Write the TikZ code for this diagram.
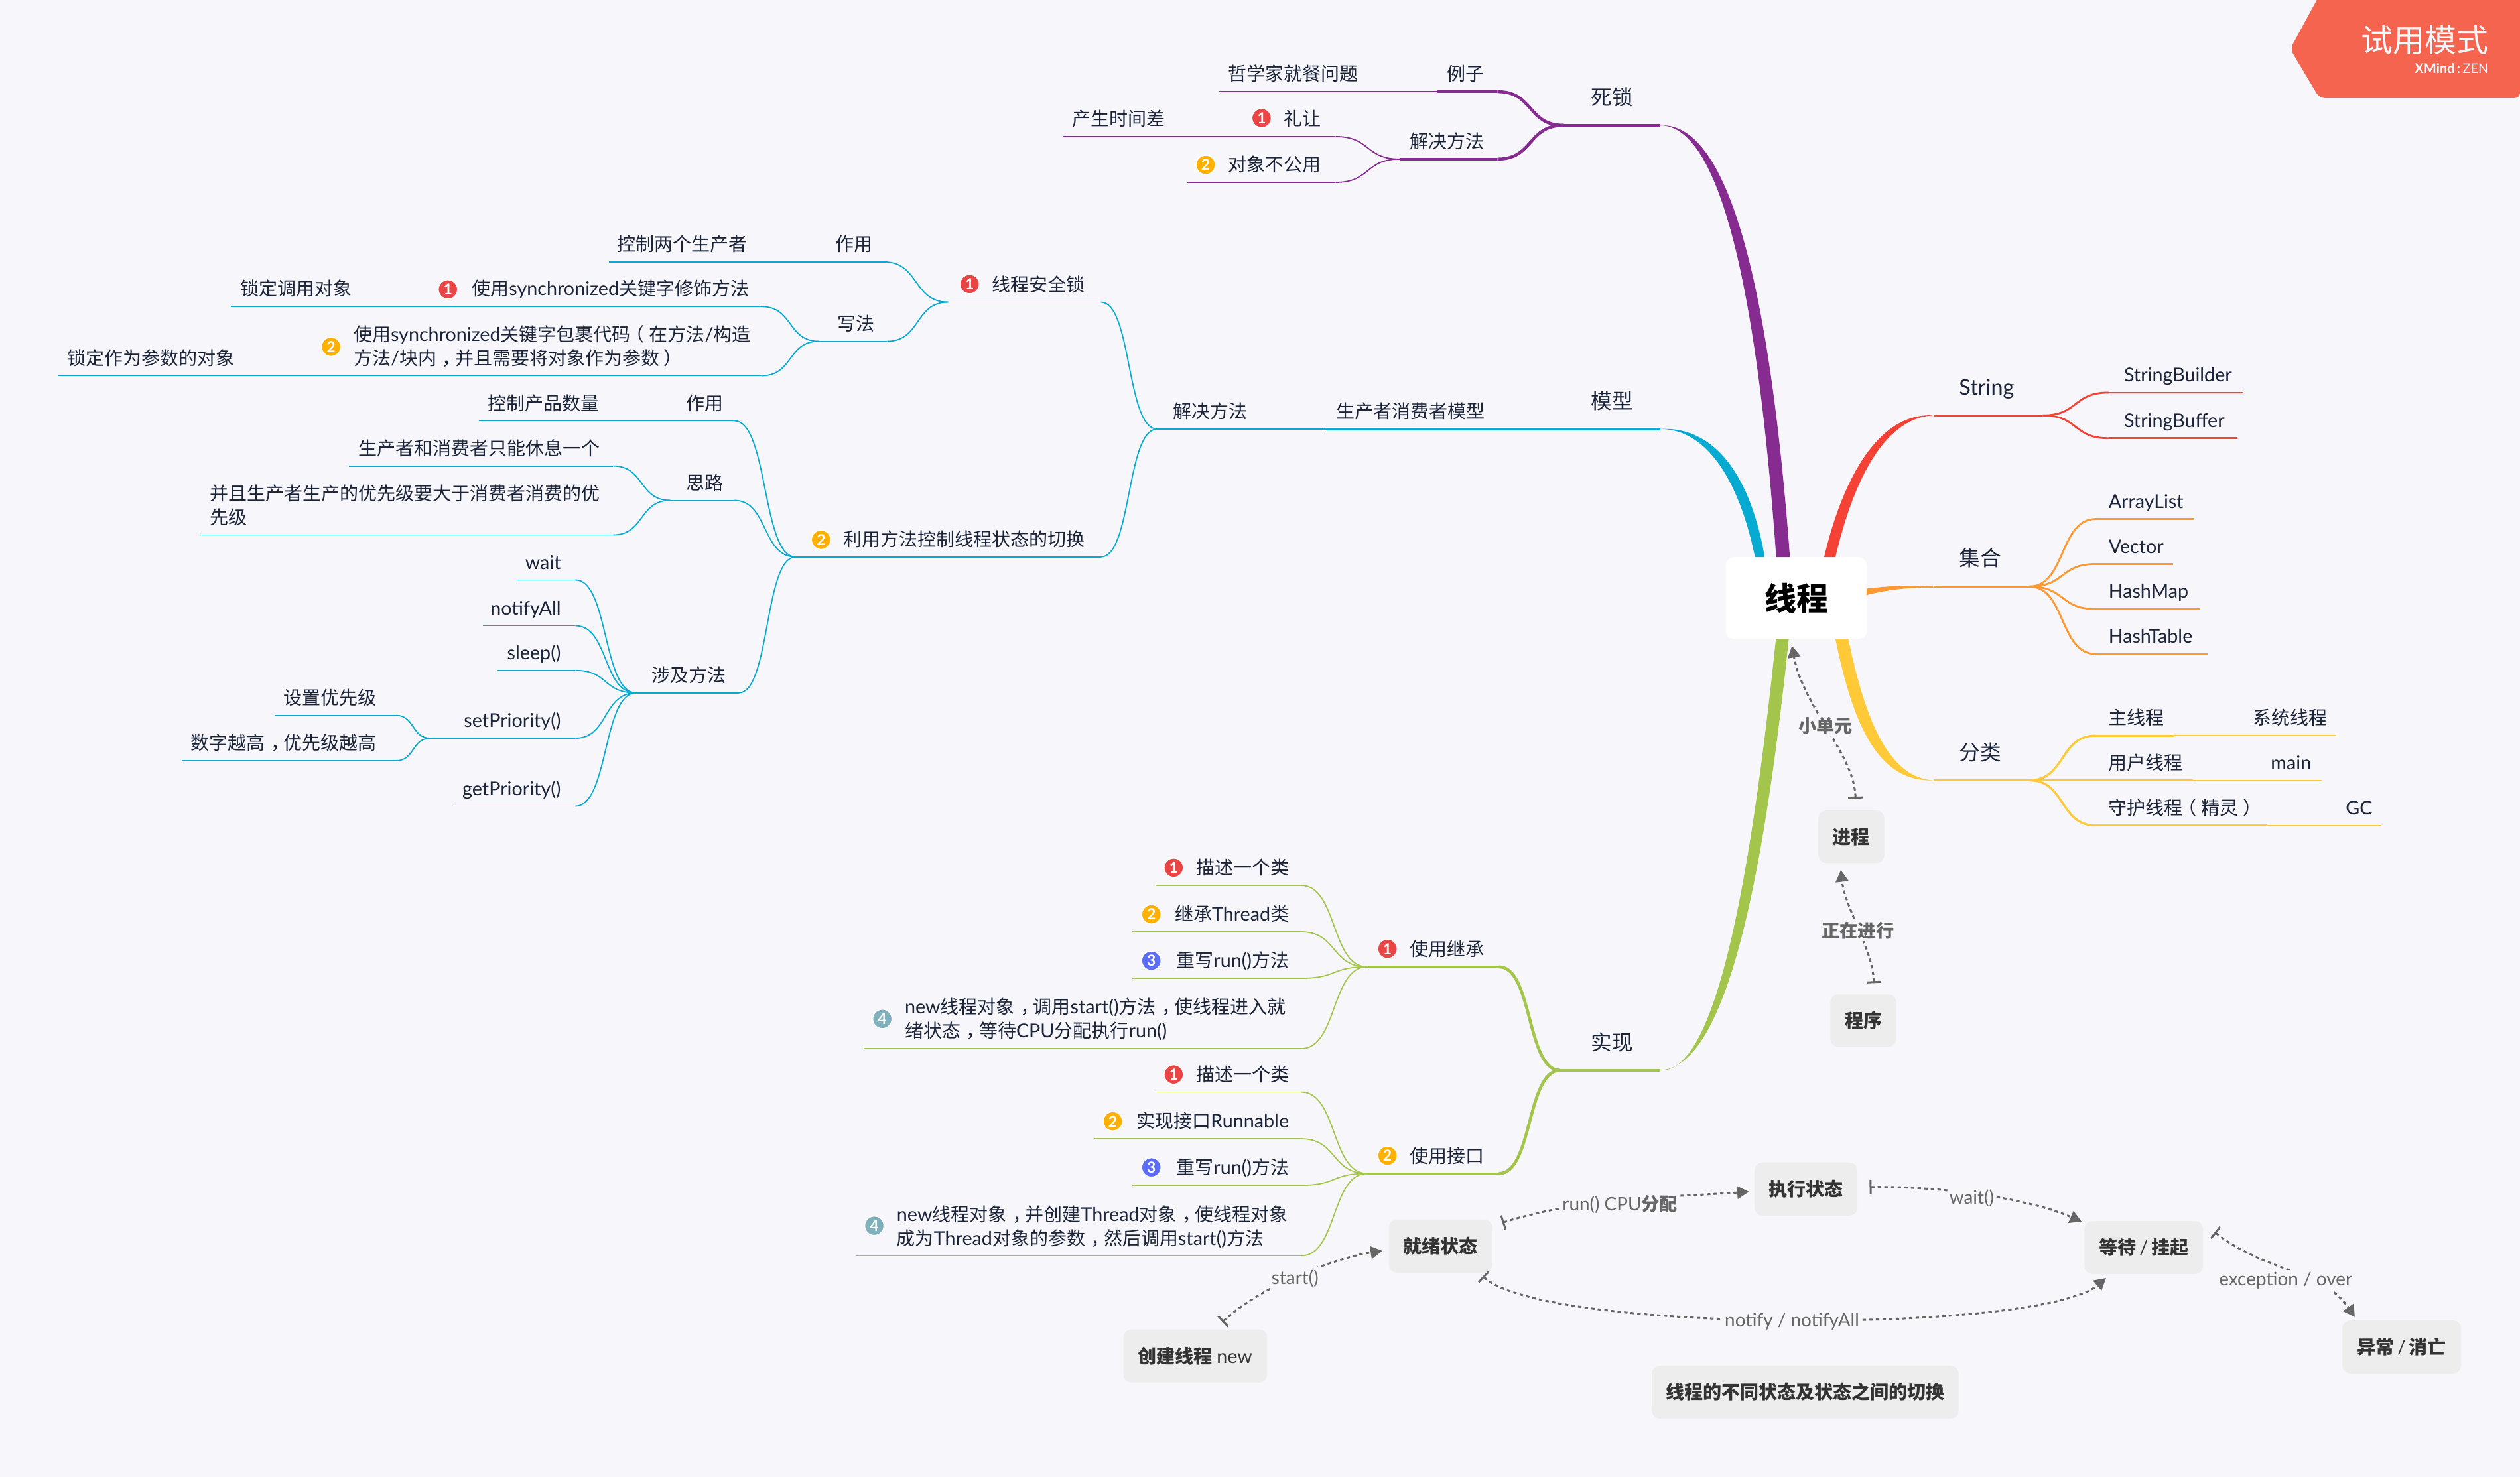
\documentclass[tikz,border=0pt]{standalone}
\usepackage{fontspec}
\usetikzlibrary{arrows.meta,calc}
\setmainfont{Lato}
\newfontfamily\cjk{Noto Sans CJK SC}
\newfontfamily\latfont[Scale=1.025]{Lato}
\newcommand\La[1]{{\latfont #1}}
\newcommand\zcm{\kern.32em ，\kern-.32em\relax}
\newcommand\zlp{\kern-.25em （\kern.25em\relax}
\newcommand\zrp{\kern.25em ）\kern-.25em\relax}
\definecolor{bgc}{HTML}{F7F7FB}
\definecolor{pur}{HTML}{862B90}
\definecolor{cya}{HTML}{07ABD1}
\definecolor{redc}{HTML}{F44336}
\definecolor{org}{HTML}{FD9930}
\definecolor{yel}{HTML}{FFC938}
\definecolor{grn}{HTML}{A3C54B}
\definecolor{ink}{HTML}{1B2438}
\definecolor{boxc}{HTML}{EDEDED}
\definecolor{boxt}{HTML}{333333}
\definecolor{lnk}{HTML}{666666}
\definecolor{badge}{HTML}{F4644F}
\definecolor{mone}{HTML}{E94545}
\definecolor{mtwo}{HTML}{FFB000}
\definecolor{mthree}{HTML}{5B6CF5}
\definecolor{mfour}{HTML}{7FB0BC}
\tikzset{
 topic/.style={anchor=south west,inner ysep=0pt,outer sep=0pt,text depth=4.1pt,
   font=\cjk\fontsize{7}{9}\selectfont},
 lvone/.style={text depth=7.6pt,font=\cjk\fontsize{7.9}{10}\selectfont},
 pa/.style={color=pur,line width=.9pt},pb/.style={color=pur,line width=.45pt},
 pc/.style={color=pur,line width=1.15pt},
 ca/.style={color=cya,line width=.9pt},cb/.style={color=cya,line width=.45pt},
 ra/.style={color=redc,line width=.7pt},
 oa/.style={color=org,line width=.7pt},
 ya/.style={color=yel,line width=.8pt},yb/.style={color=yel,line width=.4pt},
 ga/.style={color=grn,line width=.9pt},gb/.style={color=grn,line width=.45pt},
 gc/.style={color=grn,line width=1.15pt},
 mk/.style={circle,draw=white,line width=.3pt,inner sep=0pt,minimum size=7.2pt,text=white,
   font=\latfont\bfseries\fontsize{5.6}{5.6}\selectfont},
 bx/.style={fill=boxc,rounded corners=3pt,inner sep=0pt,outer sep=0pt,text=boxt,
   font=\cjk\bfseries\fontsize{7}{9}\selectfont},
 dlink/.style={color=lnk,line width=.75pt,dash pattern=on 1.3pt off 1.2pt,
   {Bar[width=5.5pt,length=.7pt]}-{Triangle[length=4.4pt,width=4.8pt]}},
 lab/.style={fill=bgc,text=lnk,inner sep=.8pt,font=\cjk\bfseries\fontsize{6.8}{8}\selectfont},
 labl/.style={fill=bgc,text=lnk,inner sep=.8pt,font=\latfont\fontsize{6.8}{8}\selectfont},
}
\newcommand\tpL[7]{%
 \pgfmathsetlengthmacro\tw{(#3-#2-2*#5)*0.6057}\pgfmathsetlengthmacro\px{#5*0.6057}%
 \node[topic,#6,text=ink,inner xsep=\px] (#1) at (#2,#4) {\makebox[\tw][r]{#7}};
 \draw[#6] (#1.south west)--(#1.south east);}
\newcommand\tpR[7]{%
 \pgfmathsetlengthmacro\tw{(#3-#2-2*#5)*0.6057}\pgfmathsetlengthmacro\px{#5*0.6057}%
 \node[topic,#6,text=ink,inner xsep=\px] (#1) at (#2,#4) {\makebox[\tw][l]{#7}};
 \draw[#6] (#1.south west)--(#1.south east);}
\newcommand\ml[2]{\parbox[b]{\dimexpr0.6057pt*#1\relax}{\baselineskip=9pt\raggedright #2}}
\newcommand\cc[3]{\draw[#3] let \p1=(#1.south east),\p2=(#2.south west),\n1={0.55*(\x2-\x1)} in
  (\p1) .. controls (\x1+\n1,\y1) and (\x2-\n1,\y2) .. (\p2);}
\newcommand\cs[3]{\draw[#3] (#1.south east) -- (#2.south west);}
\newcommand\bxn[6]{%
 \pgfmathsetlengthmacro\bw{(#3-#2)*0.6057}\pgfmathsetlengthmacro\bh{(#5-#4)*0.6057}%
 \node[bx,minimum width=\bw,minimum height=\bh] (#1) at ({(#2+#3)/2},{(#4+#5)/2}) {#6};}
\begin{document}
\begin{tikzpicture}[x=0.6057pt,y=-0.6057pt]
\fill[bgc] (0,0) rectangle (1568,919.17);
\useasboundingbox (0,0) rectangle (1568,919.17);

% ---- badge
\fill[badge,rounded corners=2pt] (1443.2,-3) -- (1425,30.5) -- (1443.2,61) -- (1568,61) -- (1568,-3) -- cycle;
\node[anchor=east,inner sep=0pt,text=bgc,font=\cjk\fontsize{12}{12}\selectfont] (trial) at (1548.7,25) {试用模式};
\node[anchor=east,inner sep=0pt,text=bgc,font=\latfont\fontsize{4.9}{5}\selectfont] (xmind) at (1548.7,42.6) {{\bfseries XMind}\,{\bfseries:}\,ZEN};

% ---- centre
\node[fill=white,rounded corners=3pt,inner sep=0pt,outer sep=0pt,minimum width=53pt,minimum height=30.8pt,
  text=black,font=\cjk\bfseries\fontsize{12}{14}\selectfont] (ct) at (1117.7,372.2) {线程};

% ---- purple
\tpR{sisuo}{973}{1033}{78}{17}{pa,lvone}{死锁}
\tpL{jjff}{871}{931.7}{99}{8}{pa}{解决方法}
\tpL{lizi}{894}{931.7}{57}{8}{pa}{例子}
\tpL{zhexue}{758.6}{853}{57}{8}{pb}{哲学家就餐问题}
\tpL{lirang}{770}{831}{85}{9}{pb}{礼让}
\tpL{shijian}{661}{733}{85}{8}{pb}{产生时间差}
\tpL{duixiang}{739}{831}{113.5}{9}{pb}{对象不公用}
\node[mk,fill=mone] (mka) at (785,73.5) {1};
\node[mk,fill=mtwo] (mkb) at (750.2,102.6) {2};
\cc{lizi}{sisuo}{pc}\cc{jjff}{sisuo}{pc}
\cs{zhexue}{lizi}{pb}\cc{lirang}{jjff}{pb}\cc{duixiang}{jjff}{pb}\cs{shijian}{lirang}{pb}
\fill[pur] ([shift={(-12.5,0)}]ct.north) .. controls (1094,190) and (1072,78) .. (sisuo.south east)
  .. controls (1078,76) and (1102,190) .. ([shift={(-4,0)}]ct.north) -- cycle;

% ---- cyan
\tpR{moxing}{973}{1033}{267}{17}{ca,lvone}{模型}
\tpL{shengchan}{825}{932}{267}{8}{ca}{生产者消费者模型}
\tpL{jjfb}{720}{784}{267}{8}{cb}{解决方法}
\tpL{aqs}{590}{685}{188}{10}{cb}{线程安全锁}
\tpL{qiehuan}{495}{685}{346.6}{10}{cb}{利用方法控制线程状态的切换}
\node[mk,fill=mone] (mkc) at (603.3,176.8) {1};
\node[mk,fill=mtwo] (mkd) at (510.9,335.9) {2};
\cs{shengchan}{moxing}{ca}\cs{jjfb}{shengchan}{cb}
\cc{aqs}{jjfb}{cb}\cc{qiehuan}{jjfb}{cb}
\tpL{zya}{514}{550}{163}{7}{cb}{作用}
\tpL{ksl}{379}{473}{163}{8}{cb}{控制两个生产者}
\tpL{xiefa}{509.5}{552}{212.4}{8}{cb}{写法}
\tpL{syncm}{227}{474}{190.8}{8}{cb}{使用\La{synchronized}关键字修饰方法}
\tpL{sdy}{143.6}{227}{190.8}{8}{cb}{锁定调用对象}
\tpL{syncb}{154}{474}{233.8}{8}{cb}{\ml{246}{使用\La{synchronized}关键字包裹代码\zlp 在方法\La{/}构造\\方法\La{/}块内\zcm 并且需要将对象作为参数\zrp}}
\tpL{scs}{36.5}{154}{233.8}{8}{cb}{锁定作为参数的对象}
\node[mk,fill=mone] (mke) at (278.7,180.1) {1};
\node[mk,fill=mtwo] (mkf) at (206,215.8) {2};
\cc{zya}{aqs}{cb}\cc{xiefa}{aqs}{cb}\cs{ksl}{zya}{cb}
\cc{syncm}{xiefa}{cb}\cc{syncb}{xiefa}{cb}\cs{sdy}{syncm}{cb}\cs{scs}{syncb}{cb}
\tpL{zyb}{422}{457}{261.9}{7}{cb}{作用}
\tpL{kcp}{298}{381}{261.9}{8}{cb}{控制产品数量}
\tpL{silu}{417}{457}{311.4}{7}{cb}{思路}
\tpL{xiuxi}{217}{381.5}{290}{8}{cb}{生产者和消费者只能休息一个}
\tpL{bingqie}{124.6}{381.5}{332.9}{8}{cb}{\ml{243}{并且生产者生产的优先级要大于消费者消费的优\\先级}}
\tpL{sheji}{395.7}{459.7}{431.2}{8}{cb}{涉及方法}
\tpL{waitn}{321}{358}{360.9}{9}{cb}{\La{wait}}
\tpL{notif}{300.5}{358}{389.4}{9}{cb}{\La{notifyAll}}
\tpL{sleepn}{309}{358}{417.2}{9}{cb}{\La{sleep()}}
\tpL{setp}{267.8}{358}{459.4}{9}{cb}{\La{setPriority()}}
\tpL{getp}{282.4}{358}{501.7}{9}{cb}{\La{getPriority()}}
\tpL{szyx}{171}{246.4}{445.2}{12}{cb}{设置优先级}
\tpL{szgy}{113}{246.4}{473.4}{12}{cb}{数字越高\zcm 优先级越高}
\cc{zyb}{qiehuan}{cb}\cc{silu}{qiehuan}{cb}\cc{sheji}{qiehuan}{cb}\cs{kcp}{zyb}{cb}
\cc{xiuxi}{silu}{cb}\cc{bingqie}{silu}{cb}
\cc{waitn}{sheji}{cb}\cc{notif}{sheji}{cb}\cc{sleepn}{sheji}{cb}\cc{setp}{sheji}{cb}\cc{getp}{sheji}{cb}
\cc{szyx}{setp}{cb}\cc{szgy}{setp}{cb}
\fill[cya] ([shift={(-25.7,0)}]ct.north) .. controls (1083,303) and (1064,267) .. (moxing.south east)
  .. controls (1069,265) and (1090,300) .. ([shift={(-19.7,0)}]ct.north) -- cycle;

% ---- red
\tpR{stri}{1203}{1271}{258.5}{16}{ra,lvone}{\La{String}}
\tpR{sbd}{1312}{1396}{244.3}{9.6}{ra}{\La{StringBuilder}}
\tpR{sbf}{1312}{1392}{272.7}{9.6}{ra}{\La{StringBuffer}}
\cc{stri}{sbd}{ra}\cc{stri}{sbf}{ra}
\fill[redc] ([shift={(17.3,0)}]ct.north) .. controls (1146,300) and (1168,256.5) .. (stri.south west)
  .. controls (1172,260) and (1153,300) .. ([shift={(24.3,0)}]ct.north) -- cycle;

% ---- orange
\tpR{jihe}{1203}{1262.6}{365}{16}{oa,lvone}{集合}
\tpR{alist}{1304}{1365.5}{323}{8}{oa}{\La{ArrayList}}
\tpR{vect}{1304}{1352}{351}{8}{oa}{\La{Vector}}
\tpR{hmap}{1304}{1368.6}{379}{8}{oa}{\La{HashMap}}
\tpR{htab}{1304}{1373.6}{407}{8}{oa}{\La{HashTable}}
\cc{jihe}{alist}{oa}\cc{jihe}{vect}{oa}\cc{jihe}{hmap}{oa}\cc{jihe}{htab}{oa}
\fill[org] ([shift={(0,-5.9)}]ct.east) .. controls (1176,364.5) and (1190,364) .. (jihe.south west)
  -- ([shift={(0,.6)}]jihe.south west) .. controls (1190,365.5) and (1176,366.5) .. ([shift={(0,-1.9)}]ct.east) -- cycle;

% ---- yellow
\tpR{fenl}{1203}{1262.6}{485.6}{16}{ya,lvone}{分类}
\tpR{zxc}{1304}{1352.6}{457.8}{8}{ya}{主线程}
\tpR{xtxc}{1394}{1453.8}{457.8}{8}{yb}{系统线程}
\tpR{yhxc}{1304}{1364.5}{485.6}{8}{ya}{用户线程}
\tpR{mainn}{1405}{1444.6}{485.6}{8}{yb}{\La{main}}
\tpR{shxc}{1304}{1410.7}{513.7}{8}{ya}{守护线程\zlp 精灵\zrp}
\tpR{gcn}{1451.6}{1481.7}{513.7}{8}{yb}{\La{GC}}
\cc{fenl}{zxc}{ya}\cs{fenl}{yhxc}{ya}\cc{fenl}{shxc}{ya}
\cs{zxc}{xtxc}{yb}\cs{yhxc}{mainn}{yb}\cs{shxc}{gcn}{yb}
\fill[yel] ([shift={(24.3,0)}]ct.south) .. controls (1152,445) and (1166,487) .. (fenl.south west)
  .. controls (1174,484) and (1160,445) .. ([shift={(32.3,0)}]ct.south) -- cycle;

% ---- green
\tpR{shix}{970.7}{1033}{666.1}{19.3}{ga,lvone}{实现}
\tpL{jicheng}{850.7}{932.7}{601.7}{9}{ga}{使用继承}
\tpL{jiekou}{850.7}{932.7}{730.3}{9}{ga}{使用接口}
\node[mk,fill=mone] (mkg) at (863.3,590.5) {1};
\node[mk,fill=mtwo] (mkh) at (863.3,719.2) {2};
\cc{jicheng}{shix}{gc}\cc{jiekou}{shix}{gc}
\tpL{gla}{719}{809.6}{551}{7.6}{gb}{描述一个类}
\tpL{glb}{704.7}{809.6}{579.9}{7.6}{gb}{继承\La{Thread}类}
\tpL{glc}{704.7}{809.6}{608.8}{7.6}{gb}{重写\La{run()}方法}
\tpL{gld}{537.4}{809.6}{652.6}{7.6}{gb}{\ml{239}{\La{new}线程对象\zcm 调用\La{start()}方法\zcm 使线程进入就\\绪状态\zcm 等待\La{CPU}分配执行\La{run()}}}
\node[mk,fill=mone] (mki) at (730.3,540) {1};
\node[mk,fill=mtwo] (mkj) at (716.4,569) {2};
\node[mk,fill=mthree] (mkk) at (716.4,597.9) {3};
\node[mk,fill=mfour] (mkl) at (549,634.1) {4};
\cc{gla}{jicheng}{gb}\cc{glb}{jicheng}{gb}\cc{glc}{jicheng}{gb}\cc{gld}{jicheng}{gb}
\tpL{gma}{719}{809.6}{679.6}{7.6}{gb}{描述一个类}
\tpL{gmb}{681}{809.6}{708.7}{7.6}{gb}{实现接口\La{Runnable}}
\tpL{gmc}{704.7}{809.6}{737.6}{7.6}{gb}{重写\La{run()}方法}
\tpL{gmd}{532.3}{809.6}{781.5}{7.6}{gb}{\ml{244}{\La{new}线程对象\zcm 并创建\La{Thread}对象\zcm 使线程对象\\成为\La{Thread}对象的参数\zcm 然后调用\La{start()}方法}}
\node[mk,fill=mone] (mkm) at (730.3,668.7) {1};
\node[mk,fill=mtwo] (mkn) at (692.4,697.8) {2};
\node[mk,fill=mthree] (mko) at (716.4,726.5) {3};
\node[mk,fill=mfour] (mkp) at (544,762.8) {4};
\cc{gma}{jiekou}{gb}\cc{gmb}{jiekou}{gb}\cc{gmc}{jiekou}{gb}\cc{gmd}{jiekou}{gb}
\fill[grn] ([shift={(-12.7,0)}]ct.south) .. controls (1088,560) and (1066,668) .. (shix.south east)
  .. controls (1072,664) and (1096,560) .. ([shift={(-4.7,0)}]ct.south) -- cycle;

% ---- floating boxes
\bxn{jincheng}{1131.4}{1172.4}{504.4}{537.1}{进程}
\bxn{chengxu}{1138.9}{1179.9}{618.8}{651.5}{程序}
\bxn{chuangjian}{699}{788.4}{827.4}{860.4}{创建线程 {\latfont\mdseries new}}
\bxn{jiuxu}{864.2}{928.6}{759}{792}{就绪状态}
\bxn{zhixing}{1091.7}{1155.7}{723.4}{756.5}{执行状态}
\bxn{dengdai}{1297}{1370.8}{759.9}{792.8}{等待{\latfont\mdseries\,/\,}挂起}
\bxn{yichang}{1457.5}{1531.3}{821.8}{854.7}{异常{\latfont\mdseries\,/\,}消亡}
\bxn{biaoti}{1027.8}{1218.7}{849.9}{882.8}{线程的不同状态及状态之间的切换}

% ---- dashed relations
\draw[dlink] ([shift={(2.6,-7.5)}]jincheng.north) .. controls (1154,470) and (1122,440) .. ([shift={(-2.7,4.3)}]ct.south);
\node[lab] (lxdy) at (1136,451.7) {小单元};
\draw[dlink] ([shift={(6.6,-7)}]chengxu.north) .. controls (1165,590) and (1148,565) .. ([shift={(-6.5,4.4)}]jincheng.south);
\node[lab] (lzzjx) at (1156,579) {正在进行};
\draw[dlink] ([shift={(16.9,-4.7)}]chuangjian.north) .. controls (785,800) and (830,783) .. ([shift={(-4.1,2.9)}]jiuxu.west);
\node[labl] (lstart) at (805.8,795.5) {start()};
\draw[dlink] ([shift={(6.2,1.9)}]jiuxu.north east) .. controls (985,745) and (1040,745) .. ([shift={(-3.5,1.7)}]zhixing.west);
\node[labl] (lrun) at (1008,749.4) {run() CPU{\cjk\bfseries 分配}};
\draw[dlink] ([shift={(7.6,-1.2)}]zhixing.east) .. controls (1205,738) and (1260,745) .. ([shift={(-1.8,.3)}]dengdai.north west);
\node[labl] (lwait) at (1226.8,745.5) {wait()};
\draw[dlink] ([shift={(-5.9,2.2)}]jiuxu.south east) .. controls (960,830) and (1270,830) .. ([shift={(13.4,2.5)}]dengdai.south west);
\node[labl] (lnotify) at (1115,822.4) {notify / notifyAll};
\draw[dlink] ([shift={(7.2,6.9)}]dengdai.north east) .. controls (1410,792) and (1445,790) .. ([shift={(7.7,-2.2)}]yichang.north west);
\node[labl] (lexc) at (1422.2,797) {exception / over};
\end{tikzpicture}
\end{document}
